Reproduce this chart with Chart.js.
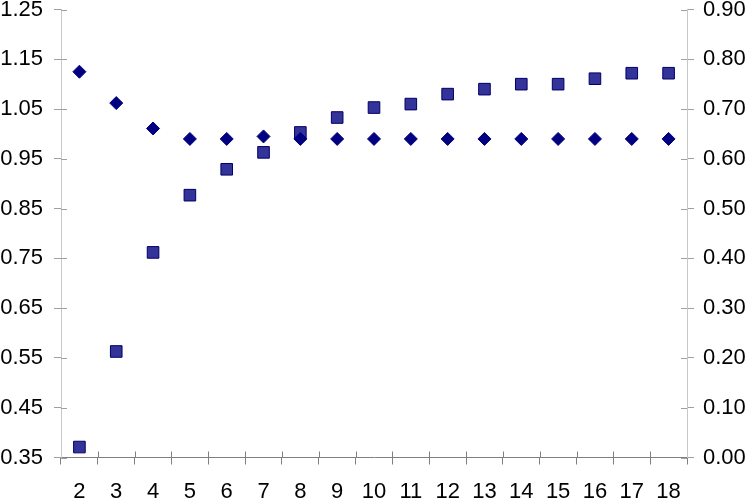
<!DOCTYPE html>
<html>
<head>
<meta charset="utf-8">
<script src="https://cdn.jsdelivr.net/npm/chart.js@4/dist/chart.umd.min.js"></script>
<style>
  html, body { margin: 0; padding: 0; background: #fff; }
  #wrap { width: 749px; height: 502px; }
</style>
</head>
<body>
<div id="wrap"><canvas id="chart" width="749" height="502"></canvas></div>
<script>
// categories on the x axis
const categories = ['2', '3', '4', '5', '6', '7', '8', '9', '10', '11', '12', '13', '14', '15', '16', '17', '18'];

// diamonds, read against the left axis
const diamondValues = [1.125, 1.062, 1.011, 0.990, 0.990, 0.995, 0.990, 0.990, 0.990, 0.990, 0.990, 0.990, 0.990, 0.990, 0.990, 0.990, 0.990];

// squares, read against the right axis
const squareValues = [0.021, 0.213, 0.412, 0.527, 0.579, 0.613, 0.653, 0.683, 0.703, 0.710, 0.730, 0.740, 0.750, 0.750, 0.761, 0.772, 0.772];

// axis ranges
const leftMin = 0.35, leftMax = 1.25;
const rightMin = 0.00, rightMax = 0.90;

const tickFont = { family: '"Liberation Sans", Arial, sans-serif', size: 22 };

// short tick marks on the inside of each axis line, so they cross it like the original
const innerTicks = {
    id: 'innerTicks',
    afterDraw(chart) {
        const ctx = chart.ctx;
        const area = chart.chartArea;
        const len = 6;
        ctx.save();
        ctx.lineWidth = 1;

        ctx.strokeStyle = '#a0a0a0';
        chart.scales.y.ticks.forEach(t => {
            const py = Math.round(chart.scales.y.getPixelForValue(t.value)) + 0.5;
            ctx.beginPath();
            ctx.moveTo(area.left, py);
            ctx.lineTo(area.left + len, py);
            ctx.stroke();
        });
        chart.scales.y1.ticks.forEach(t => {
            const py = Math.round(chart.scales.y1.getPixelForValue(t.value)) + 0.5;
            ctx.beginPath();
            ctx.moveTo(area.right - len, py);
            ctx.lineTo(area.right, py);
            ctx.stroke();
        });

        ctx.strokeStyle = '#808080';
        const xs = chart.scales.x;
        for (let i = 1; i < categories.length; i++) {
            const px = Math.round((xs.getPixelForTick(i - 1) + xs.getPixelForTick(i)) / 2) + 0.5;
            ctx.beginPath();
            ctx.moveTo(px, area.bottom - len);
            ctx.lineTo(px, area.bottom);
            ctx.stroke();
        }
        ctx.restore();
    }
};

new Chart(document.getElementById('chart'), {
    type: 'line',
    data: {
        labels: categories,
        datasets: [
            {
                label: 'diamonds',
                data: diamondValues,
                yAxisID: 'y',
                showLine: false,
                pointStyle: 'rectRot',
                pointRadius: 6.5,
                pointBackgroundColor: '#000080',
                pointBorderColor: '#000080',
                pointBorderWidth: 1
            },
            {
                label: 'squares',
                data: squareValues,
                yAxisID: 'y1',
                showLine: false,
                pointStyle: 'rect',
                pointRadius: 8.2,
                pointBackgroundColor: '#333399',
                pointBorderColor: '#000066',
                pointBorderWidth: 1
            }
        ]
    },
    options: {
        responsive: false,
        animation: false,
        layout: { padding: 0 },
        plugins: {
            legend: { display: false },
            tooltip: { enabled: false }
        },
        scales: {
            x: {
                offset: true,
                grid: {
                    offset: true,
                    drawOnChartArea: false,
                    drawTicks: true,
                    tickLength: 7,
                    color: '#808080'
                },
                border: { color: '#808080', width: 1 },
                ticks: {
                    font: tickFont,
                    color: '#000',
                    padding: 14,
                    autoSkip: false,
                    maxRotation: 0
                },
                afterFit(scale) {
                    scale.height = 44.5;
                    scale.paddingLeft = 0;
                    scale.paddingRight = 0;
                }
            },
            y: {
                position: 'left',
                min: leftMin,
                max: leftMax,
                grid: {
                    drawOnChartArea: false,
                    drawTicks: true,
                    tickLength: 7,
                    color: '#a0a0a0'
                },
                border: { color: '#c8c8c8', width: 1 },
                ticks: {
                    stepSize: 0.1,
                    font: tickFont,
                    color: '#000',
                    padding: 11,
                    callback: v => Number(v).toFixed(2)
                },
                afterFit(scale) {
                    scale.width = 61;
                    scale.paddingTop = 9.5;
                    scale.paddingBottom = 0;
                }
            },
            y1: {
                position: 'right',
                min: rightMin,
                max: rightMax,
                grid: {
                    drawOnChartArea: false,
                    drawTicks: true,
                    tickLength: 7,
                    color: '#a0a0a0'
                },
                border: { color: '#c8c8c8', width: 1 },
                ticks: {
                    stepSize: 0.1,
                    font: tickFont,
                    color: '#000',
                    padding: 9,
                    callback: v => Number(v).toFixed(2)
                },
                afterFit(scale) {
                    scale.width = 62;
                    scale.paddingTop = 9.5;
                    scale.paddingBottom = 0;
                }
            }
        }
    },
    plugins: [innerTicks]
});
</script>
</body>
</html>
